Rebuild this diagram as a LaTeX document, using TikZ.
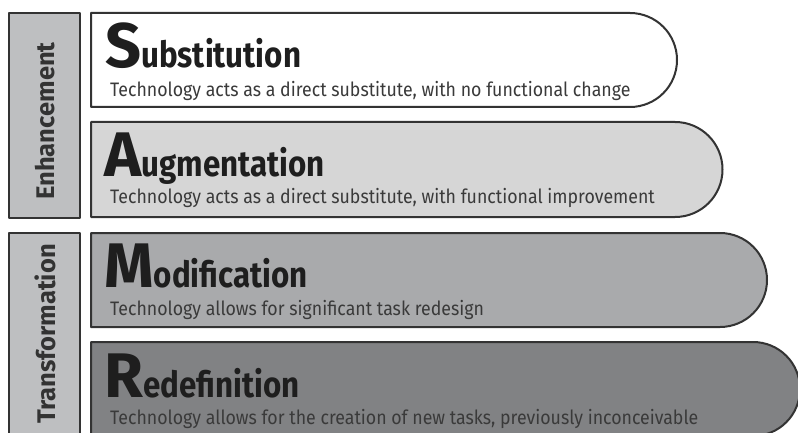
\documentclass[tikz,border=0pt]{standalone}
\usepackage{fontspec}
\setmainfont{Fira Sans}
\newfontfamily\headfont[FakeStretch=0.87]{Fira Sans}
\newfontfamily\leadfont{Fira Sans}
\newfontfamily\descfont[FakeStretch=0.91]{Fira Sans}
\newfontfamily\sidefont{Fira Sans}
\definecolor{edge}{HTML}{333333}
\definecolor{inkdark}{HTML}{1E1E1E}
\definecolor{inkdesc}{HTML}{3A3A3A}
\definecolor{fillS}{HTML}{FFFFFF}
\definecolor{fillA}{HTML}{D6D6D6}
\definecolor{fillM}{HTML}{A9AAAC}
\definecolor{fillR}{HTML}{818284}
\definecolor{fillside}{HTML}{BEBFC1}
\tikzset{
  outline/.style={draw=edge, line width=2pt, line join=round},
  initial/.style={inner sep=0pt, anchor=base west, text=inkdark,
    font=\headfont\bfseries\fontsize{36}{36}\selectfont},
  desc/.style={inner sep=0pt, anchor=base west, text=inkdesc,
    font=\descfont\fontsize{19.5}{20}\selectfont},
  sidelabel/.style={inner sep=0pt, rotate=90, text=edge,
    font=\sidefont\bfseries\fontsize{25.5}{26}\selectfont},
}
% big first letter of each level
\newcommand{\leadletter}[1]{{\leadfont\bfseries\fontsize{63}{63}\selectfont #1}}
% one level: top edge, bottom edge, centre of the round end, fill
\newcommand{\levelbox}[4]{%
  \path[outline, fill=#4] (91,#1) -- (#3,#1)
    arc[start angle=-90, end angle=90, radius={(#2-#1)/2}]
    -- (91,#2) -- cycle;}
\begin{document}
\begin{tikzpicture}[x=1pt, y=-1pt]
  \useasboundingbox (0,0) rectangle (798,433);
  \fill[white] (0,0) rectangle (798,433);

  % grouping bars on the left
  \path[outline, fill=fillside] (9,13) rectangle (80,218);
  \path[outline, fill=fillside] (9,233) rectangle (80,460);
  \node[sidelabel] (enh) at (45,121) {Enhancement};
  \node[sidelabel] (trans) at (45,334) {Transformation};

  % the four levels
  \levelbox{13}{107}{630}{fillS}
  \levelbox{122}{217}{675}{fillA}
  \levelbox{233}{327}{720}{fillM}
  \levelbox{342}{436}{753}{fillR}

  \node[initial] (subst) at (105,68) {\leadletter{S}ubstitution};
  \node[desc] (substd) at (110,97) {Technology acts as a direct substitute, with no functional change};

  \node[initial] (augm) at (104,177) {\leadletter{A}ugmentation};
  \node[desc] (augmd) at (110,204) {Technology acts as a direct substitute, with functional improvement};

  \node[initial] (modif) at (104,287) {\leadletter{M}odification};
  \node[desc] (modifd) at (110,315) {Technology allows for significant task redesign};

  \node[initial] (redef) at (104,397) {\leadletter{R}edefinition};
  \node[desc] (redefd) at (110,424) {Technology allows for the creation of new tasks, previously inconceivable};
\end{tikzpicture}
\end{document}
